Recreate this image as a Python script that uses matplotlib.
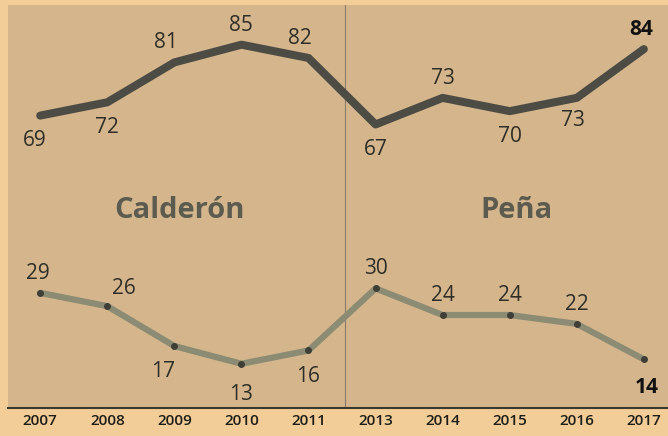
import matplotlib.pyplot as plt

# data
years = ['2007', '2008', '2009', '2010', '2011', '2013', '2014', '2015', '2016', '2017']
top_vals = [69, 72, 81, 85, 82, 67, 73, 70, 73, 84]
bottom_vals = [29, 26, 17, 13, 16, 30, 24, 24, 22, 14]

# where the value labels sit relative to the point (dx, dy in points)
top_pos = [(-4, -18), (0, -18), (-6, 14), (0, 14), (-6, 14),
           (0, -18), (0, 14), (0, -18), (-3, -16), (-2, 14)]
bottom_pos = [(-2, 14), (12, 13), (-8, -18), (0, -22), (0, -19),
              (0, 14), (0, 14), (0, 14), (0, 14), (2, -20)]

plt.rcParams['font.family'] = ['Open Sans', 'DejaVu Sans']

fig = plt.figure(figsize=(6.68, 4.36), dpi=100, facecolor='#f3cd98')
ax = fig.add_axes([0.012, 0.064, 0.988, 0.925])
ax.set_facecolor('#d5b68c')

x = list(range(len(years)))

ax.plot(x, top_vals, color='#4c4c45', linewidth=5.8, solid_capstyle='round',
        solid_joinstyle='round', zorder=3)
ax.plot(x, bottom_vals, color='#8c8b73', linewidth=4.5, solid_capstyle='round',
        solid_joinstyle='round', marker='o', markersize=4,
        markerfacecolor='#3f3f38', markeredgecolor='#3f3f38', zorder=3)

for i, v in enumerate(top_vals):
    bold = i == len(top_vals) - 1
    ax.annotate(str(v), (i, v), xytext=top_pos[i], textcoords='offset points',
                ha='center', va='center', fontsize=15,
                fontweight='bold' if bold else 'normal',
                color='#111111' if bold else '#2e2e28')
for i, v in enumerate(bottom_vals):
    bold = i == len(bottom_vals) - 1
    ax.annotate(str(v), (i, v), xytext=bottom_pos[i], textcoords='offset points',
                ha='center', va='center', fontsize=15,
                fontweight='bold' if bold else 'normal',
                color='#111111' if bold else '#2e2e28')

# divider between the two terms
ax.axvline(4.55, color='#8a7d68', linewidth=0.8, zorder=1)

ax.text(2.08, 47.5, 'Calderón', ha='center', va='center', fontsize=21,
        fontweight='bold', color='#5c5b4f')
ax.text(7.1, 47.5, 'Peña', ha='center', va='center', fontsize=21,
        fontweight='bold', color='#5c5b4f')

ax.set_xlim(-0.48, 9.36)
ax.set_ylim(3, 94)
ax.set_xticks(x)
ax.set_xticklabels(years, fontsize=11, color='#1e1e18', fontweight='semibold')
ax.set_yticks([])
ax.tick_params(axis='x', length=0, pad=4)
for side in ['top', 'right', 'left']:
    ax.spines[side].set_visible(False)
ax.spines['bottom'].set_color('#3a3a30')
ax.spines['bottom'].set_linewidth(1.5)

fig.savefig('out.png', dpi=100, facecolor=fig.get_facecolor())
